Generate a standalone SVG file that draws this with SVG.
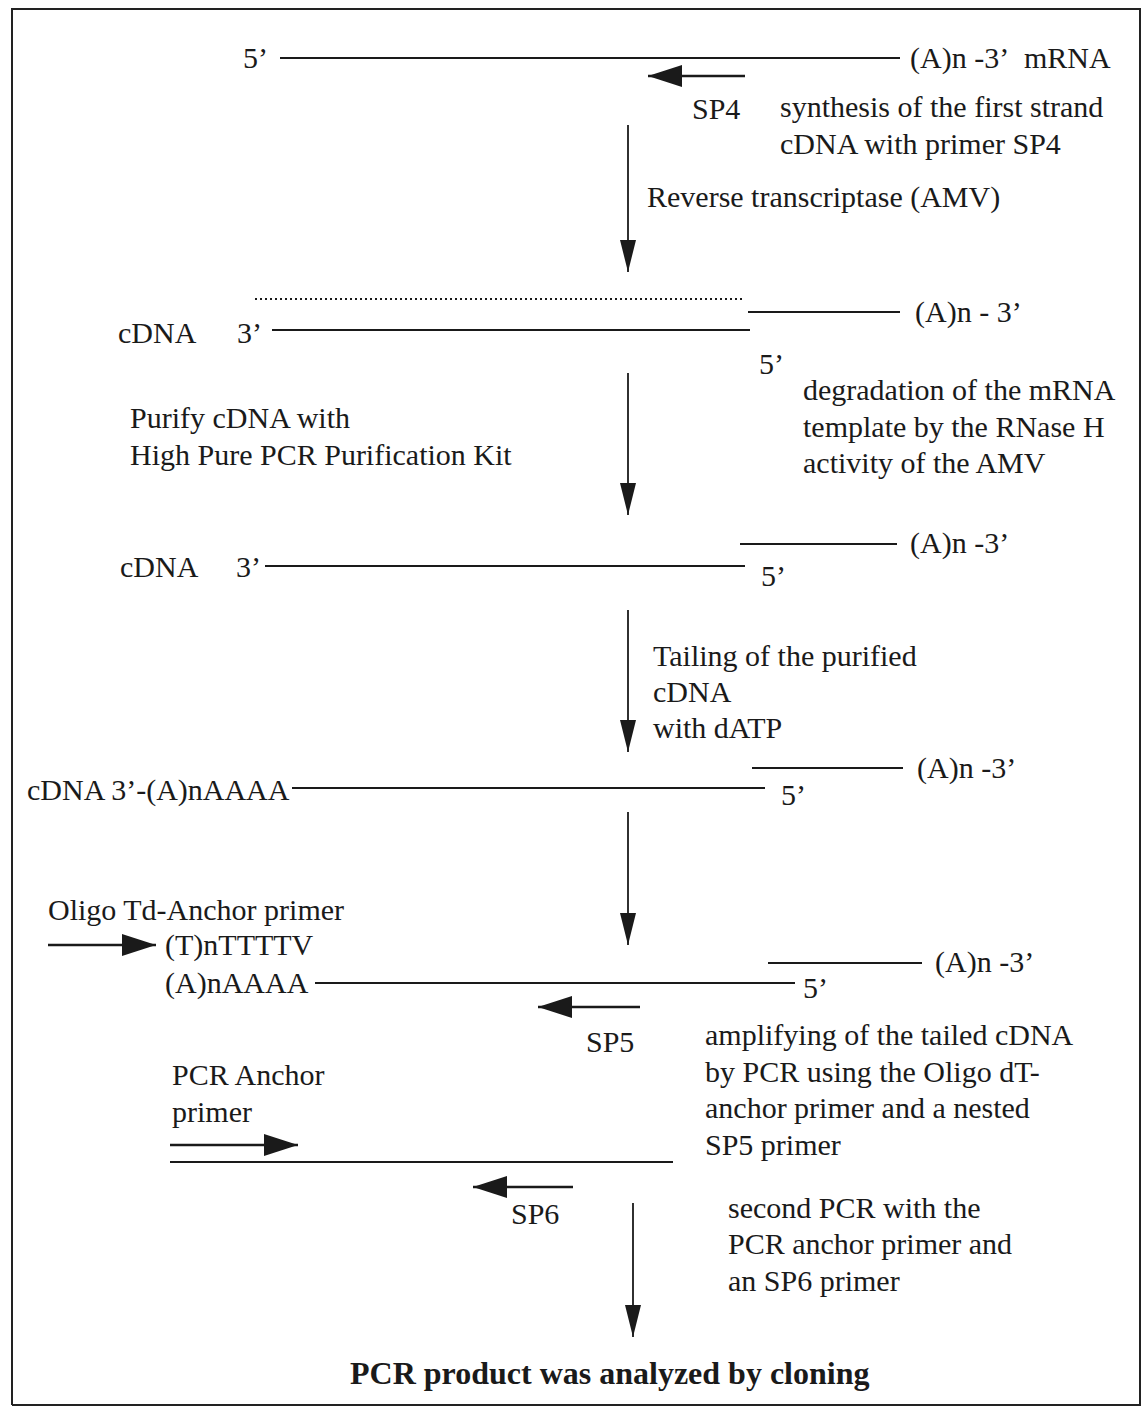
<svg xmlns="http://www.w3.org/2000/svg" width="1143" height="1409" viewBox="0 0 1143 1409">
<style>
text{font-family:"Liberation Serif","Times New Roman",serif;font-size:30px;fill:#1a1a1a}
.b{font-weight:bold;font-size:32px}
.s{stroke:#1a1a1a;stroke-width:2.2;fill:none}
.d{stroke:#1a1a1a;stroke-width:2;stroke-dasharray:2 3;fill:none}
.v{stroke:#1a1a1a;stroke-width:1.8;fill:none;marker-end:url(#vh)}
.p{stroke:#1a1a1a;stroke-width:2.5;fill:none;marker-end:url(#ph)}
</style>
<defs>
<marker id="vh" viewBox="0 0 32 16" refX="32" refY="8" markerWidth="32" markerHeight="16" markerUnits="userSpaceOnUse" orient="auto"><path d="M0,0 L32,8 L0,16 z" fill="#1a1a1a"/></marker>
<marker id="ph" viewBox="0 0 34 22" refX="34" refY="11" markerWidth="34" markerHeight="22" markerUnits="userSpaceOnUse" orient="auto"><path d="M0,0 L34,11 L0,22 z" fill="#1a1a1a"/></marker>
</defs>
<rect x="0" y="0" width="1143" height="1409" fill="#fff"/>
<path d="M12,1405 L12,9 L1140,9 L1140,1405 L12,1405" fill="none" stroke="#222" stroke-width="2"/>

<g id="connectors">
<line class="v" x1="628" y1="125" x2="628" y2="272"/>
<line class="v" x1="628" y1="373" x2="628" y2="515"/>
<line class="v" x1="628" y1="610" x2="628" y2="752"/>
<line class="v" x1="628" y1="812" x2="628" y2="945"/>
<line class="v" x1="633" y1="1203" x2="633" y2="1337"/>
</g>

<g id="mrna">
<text x="243" y="68">5’</text>
<line class="s" x1="280" y1="58" x2="900" y2="58"/>
<text x="910" y="68">(A)n -3’</text>
<text x="1024" y="68">mRNA</text>
<line class="p" x1="745" y1="76" x2="648" y2="76"/>
<text x="692" y="119">SP4</text>
</g>

<g id="step1-label">
<text x="780" y="117">synthesis of the first strand</text>
<text x="780" y="154">cDNA with primer SP4</text>
<text x="647" y="207">Reverse transcriptase (AMV)</text>
</g>

<g id="hybrid">
<line class="d" x1="255" y1="299" x2="745" y2="299"/>
<line class="s" x1="748" y1="312" x2="900" y2="312"/>
<text x="915" y="322">(A)n - 3’</text>
<text x="118" y="343">cDNA</text>
<text x="237" y="343">3’</text>
<line class="s" x1="272" y1="330" x2="750" y2="330"/>
<text x="759" y="374">5’</text>
</g>

<g id="step2-label">
<text x="130" y="428">Purify cDNA with</text>
<text x="130" y="465">High Pure PCR Purification Kit</text>
<text x="803" y="400">degradation of the mRNA</text>
<text x="803" y="437">template by the RNase H</text>
<text x="803" y="473">activity of the AMV</text>
</g>

<g id="cdna">
<line class="s" x1="740" y1="544" x2="897" y2="544"/>
<text x="910" y="553">(A)n -3’</text>
<text x="120" y="577">cDNA</text>
<text x="236" y="577">3’</text>
<line class="s" x1="265" y1="566" x2="745" y2="566"/>
<text x="761" y="586">5’</text>
</g>

<g id="step3-label">
<text x="653" y="666">Tailing of the purified</text>
<text x="653" y="702">cDNA</text>
<text x="653" y="738">with dATP</text>
</g>

<g id="tailed">
<line class="s" x1="752" y1="768" x2="903" y2="768"/>
<text x="917" y="778">(A)n -3’</text>
<text x="27" y="800">cDNA 3’-(A)nAAAA</text>
<line class="s" x1="292" y1="788" x2="765" y2="788"/>
<text x="781" y="805">5’</text>
</g>

<g id="pcr1">
<text x="48" y="920">Oligo Td-Anchor primer</text>
<line class="p" x1="48" y1="945" x2="156" y2="945"/>
<text x="165" y="955">(T)nTTTTV</text>
<text x="165" y="993">(A)nAAAA</text>
<line class="s" x1="768" y1="963" x2="922" y2="963"/>
<text x="935" y="972">(A)n -3’</text>
<line class="s" x1="315" y1="983" x2="795" y2="983"/>
<text x="803" y="998">5’</text>
<line class="p" x1="640" y1="1007" x2="538" y2="1007"/>
<text x="586" y="1052">SP5</text>
</g>

<g id="step4-label">
<text x="705" y="1045">amplifying of the tailed cDNA</text>
<text x="705" y="1082">by PCR using the Oligo dT-</text>
<text x="705" y="1118">anchor primer and a nested</text>
<text x="705" y="1155">SP5 primer</text>
</g>

<g id="pcr2">
<text x="172" y="1085">PCR Anchor</text>
<text x="172" y="1122">primer</text>
<line class="p" x1="170" y1="1145" x2="298" y2="1145"/>
<line class="s" x1="170" y1="1162" x2="673" y2="1162"/>
<line class="p" x1="573" y1="1187" x2="473" y2="1187"/>
<text x="511" y="1224">SP6</text>
</g>

<g id="step5-label">
<text x="728" y="1218">second PCR with the</text>
<text x="728" y="1254">PCR anchor primer and</text>
<text x="728" y="1291">an SP6 primer</text>
</g>

<g id="result">
<text class="b" x="350" y="1384">PCR product was analyzed by cloning</text>
</g>
</svg>
